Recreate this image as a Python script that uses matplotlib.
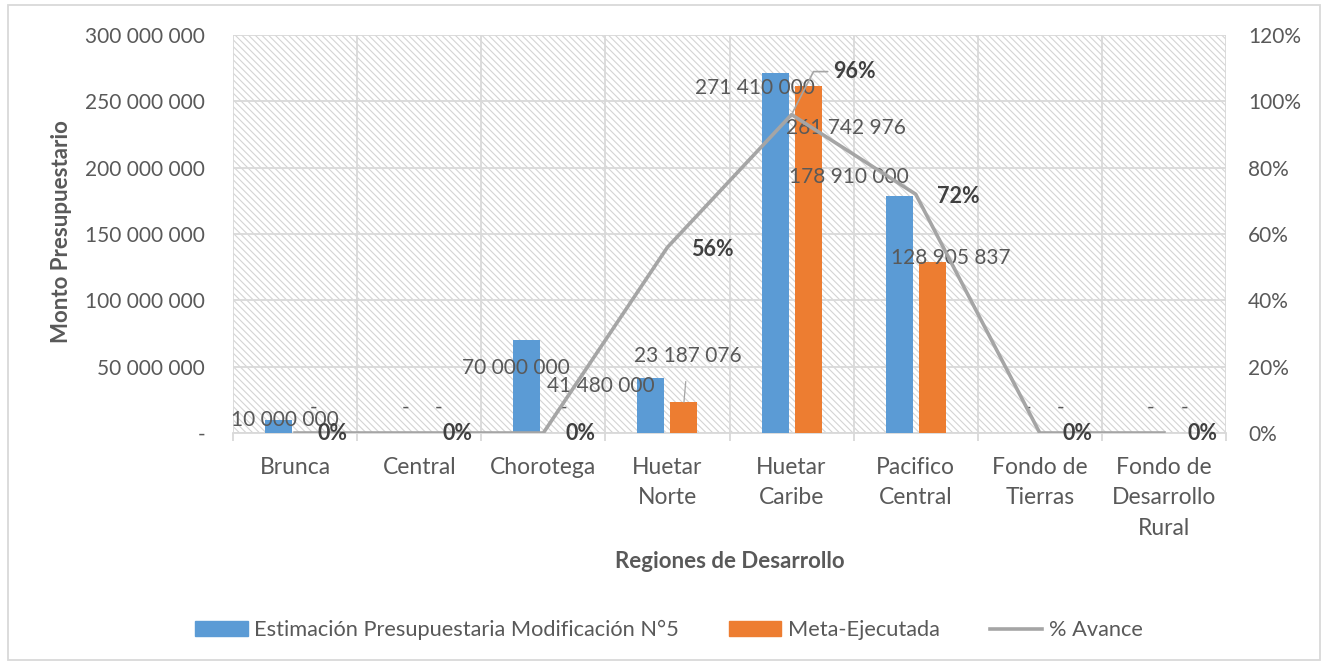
import numpy as np
import matplotlib.pyplot as plt
from matplotlib.patches import Rectangle
from matplotlib.lines import Line2D
from matplotlib.patches import Patch

plt.rcParams['font.family'] = ['Lato', 'DejaVu Sans']
plt.rcParams['hatch.linewidth'] = 0.8

# data
regiones = ['Brunca', 'Central', 'Chorotega', 'Huetar\nNorte', 'Huetar\nCaribe',
            'Pacifico\nCentral', 'Fondo de\nTierras', 'Fondo de\nDesarrollo\nRural']
estimacion = [10000000, 0, 70000000, 41480000, 271410000, 178910000, 0, 0]
ejecutada = [0, 0, 0, 23187076, 261742976, 128905837, 0, 0]
avance = [0, 0, 0, 56, 96, 72, 0, 0]

# label offsets (pixels) - moved by hand in the original
off_est = [(6, 0), (3, 25), (-11, -28), (-50, -8), (-20, -15), (-50, 19), (4, 25), (3, 25)]
off_eje = [(2, 25), (3, 25), (4, 25), (4, 46), (38, -42), (19, 4), (4, 25), (4, 25)]
off_pct = [(37, 0), (38, 0), (37, 0), (45, -2), (63, 43), (43, -2), (38, 0), (39, 0)]

txt = '#595959'
grid_c = '#d9d9d9'
blue = '#5b9bd5'
orange = '#ed7d31'
grey = '#a5a5a5'

fig = plt.figure(figsize=(13.24, 6.64), dpi=100)
ax = fig.add_axes([233/1324, 1-433/664, (1226-233)/1324, (433-35)/664])

x = np.arange(len(regiones))
w = 0.218
d = 0.133

# hatched plot area
ax.add_patch(Rectangle((0, 0), 1, 1, transform=ax.transAxes, facecolor='none',
                       edgecolor='#d4d4d4', hatch='\\\\\\\\\\', linewidth=0, zorder=0))

ax.bar(x - d, estimacion, w, color=blue, zorder=3)
ax.bar(x + d, ejecutada, w, color=orange, zorder=3)

ax.set_xlim(-0.5, 7.5)
ax.set_ylim(0, 300000000)
yt = np.arange(0, 300000001, 50000000)
ax.set_yticks(yt)
ax.set_yticklabels(['-' if v == 0 else f'{v:,.0f}'.replace(',', ' ') for v in yt])
ax.set_xticks(x)
ax.set_xticklabels(regiones, linespacing=1.58)
ax.set_xticks(np.arange(-0.5, 8, 1), minor=True)
ax.grid(axis='y', color=grid_c, lw=1.3, zorder=1)
ax.grid(axis='x', which='minor', color=grid_c, lw=1.3, zorder=1)
ax.tick_params(axis='x', which='major', length=0, pad=17, labelsize=16.5, labelcolor=txt)
ax.tick_params(axis='x', which='minor', length=6, color=grid_c, width=1.3)
ax.tick_params(axis='y', length=0, pad=20, labelsize=15, labelcolor=txt)
for s in ['top', 'right', 'left']:
    ax.spines[s].set_visible(False)
ax.spines['bottom'].set_color(grid_c)
ax.spines['bottom'].set_linewidth(1.3)

ax2 = ax.twinx()
ax2.plot(x, np.array(avance) / 100, color=grey, lw=2.6, zorder=5)
ax2.set_ylim(0, 1.2)
pt = np.arange(0, 1.21, 0.2)
ax2.set_yticks(pt)
ax2.set_yticklabels([f'{int(round(v*100))}%' for v in pt])
ax2.tick_params(axis='y', length=0, pad=16, labelsize=15, labelcolor=txt)
for s in ax2.spines.values():
    s.set_visible(False)

def fmt(v):
    return '-' if v == 0 else f'{v:,.0f}'.replace(',', ' ')

for i in x:
    ax.annotate(fmt(estimacion[i]), (i - d, estimacion[i]), xytext=off_est[i],
                textcoords='offset pixels', ha='center', va='center',
                fontsize=15, color=txt, zorder=6)
    kw = {}
    if i == 3:
        kw['arrowprops'] = dict(arrowstyle='-', color=grey, lw=0.9, shrinkA=9, shrinkB=0)
    ax.annotate(fmt(ejecutada[i]), (i + d, ejecutada[i]), xytext=off_eje[i],
                textcoords='offset pixels', ha='center', va='center',
                fontsize=15, color=txt, zorder=6, **kw)
    kw = {}
    if i == 4:
        kw['arrowprops'] = dict(arrowstyle='-', color=grey, lw=1.2, shrinkA=2, shrinkB=2,
                                connectionstyle='angle,angleA=0,angleB=63,rad=0')
    ax2.annotate(f'{avance[i]}%', (i, avance[i] / 100), xytext=off_pct[i],
                 textcoords='offset pixels', ha='center', va='center',
                 fontsize=15.5, fontweight='bold', color='#404040', zorder=6, **kw)

fig.text(62/1324, 1-232/664, 'Monto Presupuestario', rotation=90, ha='center',
         va='center', fontsize=16, fontweight='bold', color=txt)
fig.text(730/1324, 1-562/664, 'Regiones de Desarrollo', ha='center', va='center',
         fontsize=16, fontweight='bold', color=txt)

handles = [Patch(color=blue), Patch(color=orange), Line2D([], [], color=grey, lw=2.6)]
labels = ['Estimación Presupuestaria Modificación N°5', 'Meta-Ejecutada', '% Avance']
fig.legend(handles, labels, loc='center', bbox_to_anchor=(669/1324, 1-630/664), ncol=3,
           frameon=False, fontsize=15.7, labelcolor=txt, handlelength=2.4,
           handleheight=0.65, handletextpad=0.3, columnspacing=2.3)

fig.patches.append(Rectangle((0.006, 0.006), 0.991, 0.987, transform=fig.transFigure,
                             facecolor='none', edgecolor=grid_c, lw=1.3))

fig.savefig('out.png', dpi=100)
